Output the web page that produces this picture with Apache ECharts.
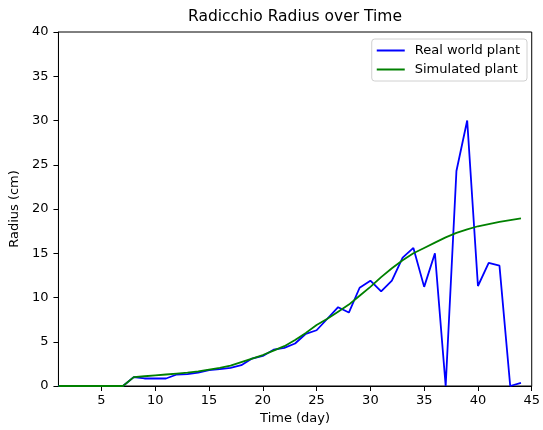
<!DOCTYPE html>
<html>
<head>
<meta charset="utf-8">
<script src="https://cdn.jsdelivr.net/npm/echarts@6/dist/echarts.min.js"></script>
<style>html,body{margin:0;padding:0;background:#fff}#c{width:543px;height:430px}</style>
</head>
<body>
<div id="c"></div>
<script>
var days = [1,2,3,4,5,6,7,8,9,10,11,12,13,14,15,16,17,18,19,20,21,22,23,24,25,26,27,28,29,30,31,32,33,34,35,36,37,38,39,40,41,42,43,44];
var realRadius = [0,0,0,0,0,0,0,1.0,0.85,0.85,0.85,1.3,1.35,1.5,1.8,1.9,2.05,2.35,3.1,3.4,4.1,4.3,4.8,5.9,6.3,7.6,8.9,8.3,11.1,11.9,10.7,11.9,14.5,15.6,11.2,15.0,0,24.3,30.0,11.3,13.9,13.6,0,0.35];
var simRadius = [0,0,0,0,0,0,0,1.0,1.1,1.2,1.3,1.4,1.5,1.65,1.85,2.05,2.3,2.7,3.1,3.5,4.0,4.5,5.2,6.0,6.9,7.6,8.4,9.2,10.2,11.2,12.3,13.3,14.2,15.0,15.6,16.2,16.8,17.3,17.7,18.05,18.3,18.55,18.75,18.95];
var xTicks = [5,10,15,20,25,30,35,40,45];
var yTicks = [0,5,10,15,20,25,30,35,40];

function pairs(xs, ys){ return xs.map(function(x,i){return [x, ys[i]];}); }

var font = 'DejaVu Sans';
var chart = echarts.init(document.getElementById('c'), null, {renderer:'canvas'});
chart.setOption({
  animation:false,
  backgroundColor:'#fff',
  textStyle:{fontFamily:font},
  title:{text:'Radicchio Radius over Time', left:295, top:9, textAlign:'center', padding:0,
    textStyle:{fontFamily:font, fontSize:15.5, fontWeight:'normal', color:'#000'}},
  grid:{left:57, right:10, top:32, bottom:44, show:true, borderColor:'#000', borderWidth:1, backgroundColor:'transparent'},
  legend:{
    orient:'vertical', right:16, top:39,
    icon:'rect', itemWidth:28, itemHeight:2, itemGap:4,
    padding:[4,7,4,5],
    borderColor:'#d0d0d0', borderWidth:1, borderRadius:3, backgroundColor:'#fff',
    textStyle:{fontFamily:font, fontSize:13, color:'#000', padding:[0,0,0,5], lineHeight:15},
    data:['Real world plant','Simulated plant']
  },
  xAxis:{
    type:'value', min:1, max:45,
    name:'Time (day)', nameLocation:'middle', nameGap:25,
    nameTextStyle:{fontFamily:font, fontSize:13, color:'#000'},
    axisLine:{show:true, lineStyle:{color:'#000', width:1}},
    axisTick:{show:true, length:5, lineStyle:{color:'#000'}, customValues:xTicks},
    axisLabel:{fontFamily:font, fontSize:13, color:'#000', margin:8, customValues:xTicks},
    splitLine:{show:false}
  },
  yAxis:{
    type:'value', min:0, max:40, interval:5,
    name:'Radius (cm)', nameLocation:'middle', nameGap:32, nameRotate:90,
    nameTextStyle:{fontFamily:font, fontSize:13, color:'#000'},
    axisLine:{show:true, lineStyle:{color:'#000', width:1}},
    axisTick:{show:true, length:5, lineStyle:{color:'#000'}, customValues:yTicks},
    axisLabel:{fontFamily:font, fontSize:13, color:'#000', margin:10, customValues:yTicks},
    splitLine:{show:false}
  },
  series:[
    {name:'Real world plant', type:'line', data:pairs(days, realRadius), symbol:'none',
      lineStyle:{color:'#0000ff', width:1.8}, itemStyle:{color:'#0000ff'}},
    {name:'Simulated plant', type:'line', data:pairs(days, simRadius), symbol:'none',
      lineStyle:{color:'#008000', width:1.8}, itemStyle:{color:'#008000'}}
  ]
});
</script>
</body>
</html>
